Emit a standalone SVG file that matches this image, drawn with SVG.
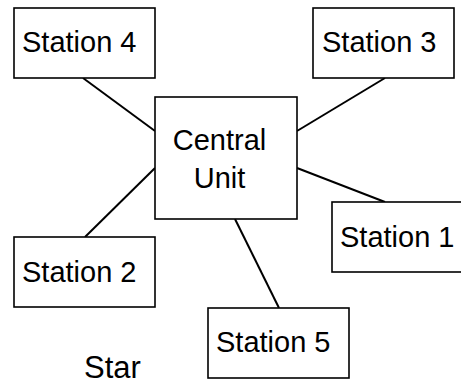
<svg xmlns="http://www.w3.org/2000/svg" width="461" height="385" viewBox="0 0 461 385">
<style>
.box{fill:#fff;stroke:#000;stroke-width:1.6}
.t{font-family:"Liberation Sans",Arial,sans-serif;font-size:29px;fill:#000}
.ln{stroke:#000;stroke-width:2;fill:none}
</style>
<rect width="461" height="385" fill="#fff"/>
<g id="connectors">
<line class="ln" x1="83" y1="78" x2="155" y2="131"/>
<line class="ln" x1="155" y1="168" x2="85" y2="237" stroke-width="1.3"/>
<line class="ln" x1="297" y1="131" x2="385" y2="78"/>
<line class="ln" x1="297" y1="168" x2="385" y2="202"/>
<line class="ln" x1="235" y1="219" x2="279" y2="308"/>
</g>
<g id="central">
<rect class="box" x="155" y="97" width="142" height="122"/>
<text class="t" x="219.5" y="150" text-anchor="middle">Central</text>
<text class="t" x="219.5" y="188" text-anchor="middle">Unit</text>
</g>
<g id="station4">
<rect class="box" x="14" y="8" width="141" height="70"/>
<text class="t" x="22" y="52">Station 4</text>
</g>
<g id="station3">
<rect class="box" x="313" y="8" width="141" height="70"/>
<text class="t" x="322" y="52">Station 3</text>
</g>
<g id="station2">
<rect class="box" x="14" y="237" width="141" height="70"/>
<text class="t" x="22" y="282">Station 2</text>
</g>
<g id="station1">
<rect class="box" x="332" y="202" width="141" height="70"/>
<text class="t" x="340" y="247">Station 1</text>
</g>
<g id="station5">
<rect class="box" x="208" y="308" width="141" height="70"/>
<text class="t" x="216" y="352">Station 5</text>
</g>
<text id="title" class="t" x="84" y="378" style="font-size:31px">Star</text>
</svg>
